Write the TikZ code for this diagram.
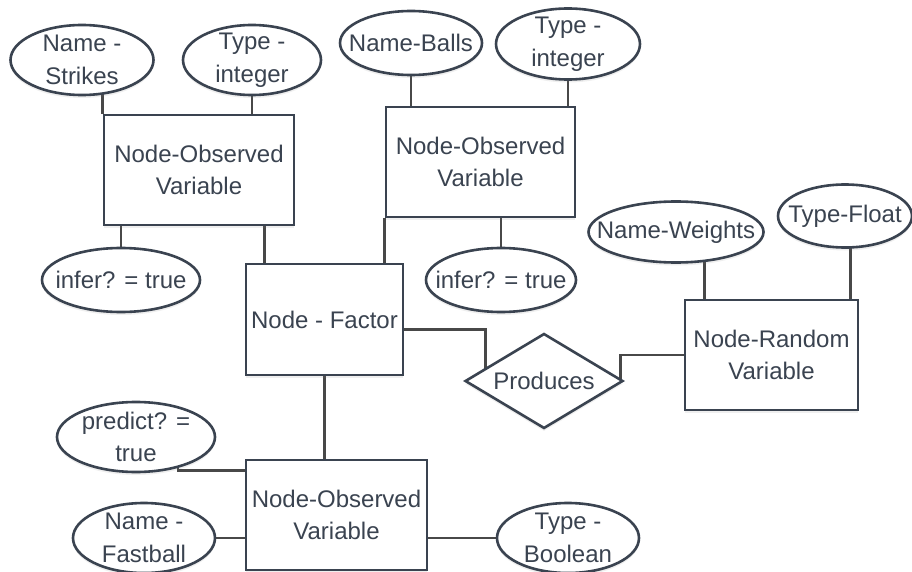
\documentclass[tikz,border=0pt]{standalone}
\usepackage{fontspec}
\setmainfont{Liberation Sans}
\usepackage{tikz}
\usetikzlibrary{shapes,positioning,shadows,backgrounds}

\definecolor{ink}{RGB}{58,67,80}
\definecolor{wire}{RGB}{72,72,72}

\begin{document}
\begin{tikzpicture}[x=1pt, y=-1pt,
		basic/.style    = {draw=ink, line width=2.6pt, fill=white, inner sep=0pt, text=ink, font=\fontsize{24}{32.5}\selectfont, drop shadow={opacity=0.12, shadow xshift=0pt, shadow yshift=-3pt}},
		entity/.style   = {basic, rectangle, align=center},
		attr/.style     = {basic, ellipse, label={[txt]center:#1}},
		txt/.style      = {text=ink, align=center, inner sep=0pt, font=\fontsize{24}{32.5}\selectfont},
		relation/.style = {basic, diamond, aspect=1.66},
		link/.style     = {draw=wire, line width=2.6pt}]
		
		\useasboundingbox (0,0) rectangle (912,572);
		
		% the entities
		\node[entity, minimum width=190pt, minimum height=110pt] (obsA) at (199,170) {Node-Observed\\Variable};
		\node[entity, minimum width=189pt, minimum height=110pt] (obsB) at (480.5,162) {Node-Observed\\Variable};
		\node[entity, minimum width=157pt, minimum height=111pt] (factor) at (324.5,319.5) {Node - Factor};
		\node[entity, minimum width=173pt, minimum height=110pt] (random) at (771.5,355) {Node-Random\\Variable};
		\node[entity, minimum width=181pt, minimum height=110pt] (obsC) at (336.5,515) {Node-Observed\\Variable};
		
		% the relation
		\node[relation, minimum width=158pt, minimum height=95pt] (produces) at (544,381) {Produces};
		
		% the attributes
		\node[attr={Name -\\Strikes}, minimum width=143pt, minimum height=70pt] (nstrike) at (82,60) {};
		\node[attr={Type -\\integer}, minimum width=138pt, minimum height=70pt] (tintA) at (252,60) {};
		\node[attr={infer? = true}, minimum width=158pt, minimum height=64pt] (infA) at (121,280) {};
		\node[attr={Name-Balls}, minimum width=142pt, minimum height=64pt] (nballs) at (411,43) {};
		\node[attr={Type -\\integer}, minimum width=144pt, minimum height=71pt] (tintB) at (568,44) {};
		\node[attr={infer? = true}, minimum width=150pt, minimum height=64pt] (infB) at (501,280) {};
		\node[attr={Name-Weights}, minimum width=175pt, minimum height=61pt] (nweights) at (676,232) {};
		\node[attr={Type-Float}, minimum width=134pt, minimum height=63pt] (tfloat) at (845,216) {};
		\node[attr={predict? =\\true}, minimum width=158pt, minimum height=70pt] (predict) at (136,437) {};
		\node[attr={Name -\\Fastball}, minimum width=142pt, minimum height=70pt] (nfast) at (144,538) {};
		\node[attr={Type -\\Boolean}, minimum width=142pt, minimum height=70pt] (tbool) at (568,538) {};
		
		% lines behind the shapes
		\begin{scope}[on background layer]
			\fill[white] (0,0) rectangle (912,572);
			
			% attributes straight above or below their entity
			\foreach \a/\b in {tintA/obsA, nballs/obsB, tintB/obsB}
			\draw[link] (\a) -- (\a |- \b.north);
			
			\foreach \a/\b in {infA/obsA, infB/obsB}
			\draw[link] (\a) -- (\a |- \b.south);
			
			\draw[link] (obsA.north west) -- (obsA.north west |- nstrike);
			\draw[link] ([xshift=21pt]random.north west) -- ([xshift=21pt]random.north west |- nweights);
			\draw[link] ([xshift=-9pt]random.north east) -- ([xshift=-9pt]random.north east |- tfloat);
			
			% entity to entity
			\draw[link] ([xshift=20pt]factor.north west) -- ([xshift=20pt]factor.north west |- obsA.south);
			\draw[link] (obsB.south west) -- (obsB.south west |- factor.north);
			\draw[link] (factor.south) -- (factor.south |- obsC.north);
			
			% into the relation
			\draw[link] ([yshift=-10pt]factor.east) -| ([xshift=22pt]produces.west);
			\draw[link] (random.west) -| ([xshift=-4pt]produces.east);
			
			% attributes of the lower entity
			\draw[link] ([yshift=-12pt]obsC.north west) -| ([xshift=42pt]predict.center);
			\draw[link] (nfast) -- (nfast -| obsC.west);
			\draw[link] (tbool) -- (tbool -| obsC.east);
		\end{scope}
		
	\end{tikzpicture}
\end{document}
